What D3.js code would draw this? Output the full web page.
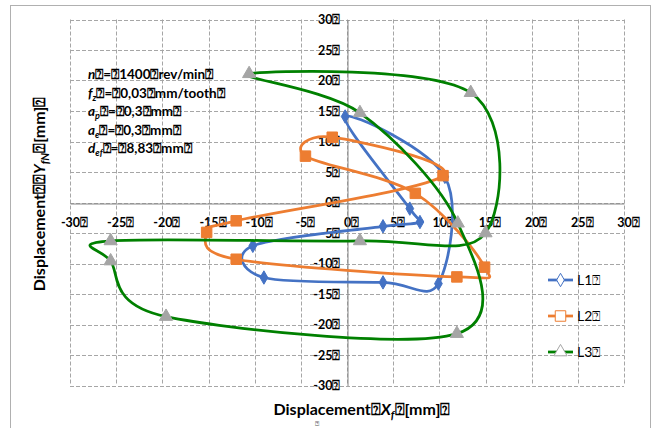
<!DOCTYPE html>
<html>
<head>
<meta charset="utf-8">
<script src="https://cdn.jsdelivr.net/npm/d3@7"></script>
<style>
  body { margin: 0; background: #fff; }
  text { font-family: Lato, "Open Sans", sans-serif; }
</style>
</head>
<body>
<svg></svg>
<script>
// tick values for both axes
let ticks = [-30, -25, -20, -15, -10, -5, 0, 5, 10, 15, 20, 25, 30];

// L1 (blue, diamonds)
let l1X = [-0.2, 6.8, 7.9, 3.9, -10.2, -9.0, 3.9, 9.9, 10.6];
let l1Y = [14.1, -1.0, -3.2, -3.9, -7.1, -12.3, -13.1, -13.3, 4.2];
// L2 (orange, squares)
let l2X = [-12.0, 10.4, -1.6, -4.5, 7.4, 14.9, 11.9, -12.0, -15.2];
let l2Y = [-3.0, 4.4, 10.7, 7.6, 1.5, -10.6, -12.2, -9.3, -4.9];
// L3 (green line, grey triangles)
let l3X = [-10.6, 13.4, 15.0, 1.4, -25.6, -25.6, -19.6, 11.9, 12.0, 1.4];
let l3Y = [21.1, 18.0, -5.0, -6.3, -6.3, -9.6, -18.7, -21.5, -3.4, 14.7];

let seriesNames = ['L1', 'L2', 'L3'];
let tofu = '\u2370';

// configuration of svg/plot area
let config = {
  'svg': {},
  'plot': {}
};
config.svg.width = 654;
config.svg.height = 428;
config.plot.left = 70;
config.plot.right = 624;
config.plot.top = 19.5;
config.plot.bottom = 385.5;

let svg = d3.select('body').select('svg');
svg.attr('width', config.svg.width);
svg.attr('height', config.svg.height);

// chart area outline
svg.append('rect')
  .attr('x', 10.5).attr('y', 5.5)
  .attr('width', 640).attr('height', 440)
  .attr('fill', '#fff')
  .attr('stroke', '#b0b0b0');

let x = d3.scaleLinear().domain([-30, 30]).range([config.plot.left, config.plot.right]);
let y = d3.scaleLinear().domain([-30, 30]).range([config.plot.bottom, config.plot.top]);

// dashed grid
let grid = svg.append('g')
  .attr('stroke', '#a6a6a6')
  .attr('stroke-width', 1)
  .attr('stroke-dasharray', '4,2');
grid.selectAll('line.v').data(ticks).enter().append('line')
  .attr('x1', d => Math.round(x(d)) + 0.5).attr('x2', d => Math.round(x(d)) + 0.5)
  .attr('y1', y(30)).attr('y2', y(-30));
grid.selectAll('line.h').data(ticks).enter().append('line')
  .attr('y1', d => Math.round(y(d)) + 0.5).attr('y2', d => Math.round(y(d)) + 0.5)
  .attr('x1', x(-30)).attr('x2', x(30));

// axes crossing at 0
let fmt = d => d + tofu;
let gx = svg.append('g')
  .attr('transform', translate(0, Math.round(y(0)) + 0.5))
  .call(d3.axisBottom(x).tickValues(ticks).tickFormat(fmt).tickSize(0).tickPadding(15));
gx.selectAll('text').attr('dx', 4);
let gy = svg.append('g')
  .attr('transform', translate(Math.round(x(0)) + 0.5, 0))
  .call(d3.axisLeft(y).tickValues(ticks).tickFormat(fmt).tickSize(0).tickPadding(7));
[gx, gy].forEach(function(g) {
  g.select('.domain').attr('stroke', '#868686').attr('stroke-width', 1);
  g.selectAll('text')
    .attr('fill', '#000')
    .style('font-family', 'Lato, sans-serif')
    .style('font-size', '12.5px')
    .style('font-weight', 'bold');
});

// series
let series = [
  { name: seriesNames[0], xs: l1X, ys: l1Y, line: '#4472c4', marker: 'diamond', fill: '#4472c4' },
  { name: seriesNames[1], xs: l2X, ys: l2Y, line: '#ed7d31', marker: 'square', fill: '#ed7d31' },
  { name: seriesNames[2], xs: l3X, ys: l3Y, line: '#008000', marker: 'triangle', fill: '#a5a5a5' }
];
let symbols = {
  'diamond': d3.symbol().type(d3.symbolDiamond).size(52),
  'square': d3.symbol().type(d3.symbolSquare).size(110),
  'triangle': d3.symbol().type(d3.symbolTriangle).size(75)
};
// smoothed closed loops
let line = d3.line()
  .x(d => x(d[0]))
  .y(d => y(d[1]))
  .curve(d3.curveCardinalClosed.tension(0));

series.forEach(function(s) {
  let pts = s.xs.map((v, i) => [v, s.ys[i]]);
  svg.append('path')
    .datum(pts)
    .attr('fill', 'none')
    .attr('stroke', s.line)
    .attr('stroke-width', 2.75)
    .attr('stroke-linejoin', 'round')
    .attr('d', line);
  svg.append('g').selectAll('path')
    .data(pts).enter().append('path')
    .attr('d', symbols[s.marker])
    .attr('transform', d => translate(x(d[0]), y(d[1])))
    .attr('fill', s.fill)
    .attr('stroke', s.fill)
    .attr('stroke-width', 1);
});

// legend
let legend = svg.append('g').attr('transform', translate(548, 280));
series.forEach(function(s, i) {
  let g = legend.append('g').attr('transform', translate(0, i * 36));
  g.append('line')
    .attr('x1', 0).attr('x2', 25).attr('y1', 0).attr('y2', 0)
    .attr('stroke', s.line).attr('stroke-width', 2.75);
  g.append('path')
    .attr('d', symbols[s.marker])
    .attr('transform', translate(12.5, 0))
    .attr('fill', '#fff')
    .attr('stroke', s.fill)
    .attr('stroke-width', 1);
  g.append('text')
    .attr('x', 29).attr('y', 5)
    .style('font-size', '14px')
    .text(s.name + tofu);
});

// parameter block
let params = [
  ['n', '', tofu + '=' + tofu + '1400' + tofu + 'rev/min' + tofu],
  ['f', 'z', tofu + '=' + tofu + '0,03' + tofu + 'mm/tooth' + tofu],
  ['a', 'p', tofu + '=' + tofu + '0,3' + tofu + 'mm' + tofu],
  ['a', 'e', tofu + '=' + tofu + '0,3' + tofu + 'mm' + tofu],
  ['d', 'ef', tofu + '=' + tofu + '8,83' + tofu + 'mm' + tofu]
];
params.forEach(function(p, i) {
  let t = svg.append('text')
    .attr('x', 88).attr('y', 79 + i * 18.5)
    .style('font-size', '13.5px')
    .style('font-weight', 'bold');
  t.append('tspan').style('font-style', 'italic').text(p[0]);
  if (p[1]) {
    t.append('tspan').style('font-style', 'italic').style('font-size', '9px').attr('dy', 3).text(p[1]);
    t.append('tspan').attr('dy', -3).text(p[2]);
  } else {
    t.append('tspan').text(p[2]);
  }
});

// axis titles
let xt = svg.append('text')
  .attr('x', 362).attr('y', 415)
  .attr('text-anchor', 'middle')
  .style('font-size', '16px')
  .style('font-weight', 'bold');
xt.append('tspan').text('Displacement' + tofu);
xt.append('tspan').style('font-style', 'italic').text('X');
xt.append('tspan').style('font-style', 'italic').style('font-size', '11px').attr('dy', 4).text('f');
xt.append('tspan').attr('dy', -4).text(tofu + '[mm]' + tofu);
svg.append('text')
  .attr('x', 317).attr('y', 426)
  .attr('text-anchor', 'middle')
  .style('font-size', '7px')
  .text(tofu);

let yt = svg.append('text')
  .attr('transform', translate(45, 194) + ' rotate(-90)')
  .attr('text-anchor', 'middle')
  .style('font-size', '16px')
  .style('font-weight', 'bold');
yt.append('tspan').text('Displacement' + tofu + tofu);
yt.append('tspan').style('font-style', 'italic').text('Y');
yt.append('tspan').style('font-style', 'italic').style('font-size', '11px').attr('dy', 4).text('fN');
yt.append('tspan').attr('dy', -4).text(tofu + '[mm]' + tofu);

function translate(x, y) {
  return 'translate(' + x + ',' + y + ')';
}
</script>
</body>
</html>
